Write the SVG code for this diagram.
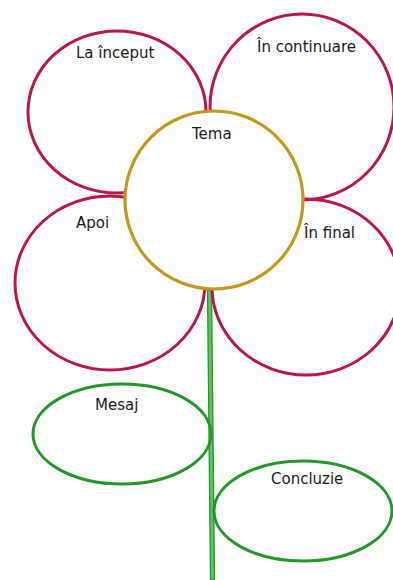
<svg xmlns="http://www.w3.org/2000/svg" width="393" height="580" viewBox="0 0 393 580">
<style>
.petal{fill:none;stroke:#b8174f;stroke-width:3}
.center{fill:#fff;stroke:#c4971e;stroke-width:3.2}
.leaf{fill:none;stroke:#25962a;stroke-width:3}
.t{font-family:"DejaVu Sans",Verdana,sans-serif;font-size:15px;fill:#1a1a1a}
</style>
<rect width="393" height="580" fill="#fff"/>
<g id="connectors">
<polygon points="207.5,290 211.5,290 214.5,580 210.5,580" fill="#5cc45c" stroke="#239a28" stroke-width="1.3"/>
</g>
<g id="petal-la-inceput"><ellipse class="petal" cx="117" cy="112" rx="89" ry="81"/><text class="t" x="76" y="58">La început</text></g>
<g id="petal-in-continuare"><ellipse class="petal" cx="302" cy="107" rx="92" ry="93"/><text class="t" x="257" y="52">În continuare</text></g>
<g id="petal-apoi"><ellipse class="petal" cx="110" cy="283" rx="95" ry="87"/><text class="t" x="76" y="228">Apoi</text></g>
<g id="petal-in-final"><ellipse class="petal" cx="306" cy="287" rx="94" ry="88"/><text class="t" x="304" y="238">În final</text></g>
<g id="tema"><circle class="center" cx="214" cy="200" r="89"/><text class="t" x="192" y="139">Tema</text></g>
<g id="mesaj"><ellipse class="leaf" cx="122" cy="434" rx="89" ry="50"/><text class="t" x="95" y="410">Mesaj</text></g>
<g id="concluzie"><ellipse class="leaf" cx="303" cy="511" rx="89" ry="50"/><text class="t" x="271" y="484">Concluzie</text></g>
</svg>
